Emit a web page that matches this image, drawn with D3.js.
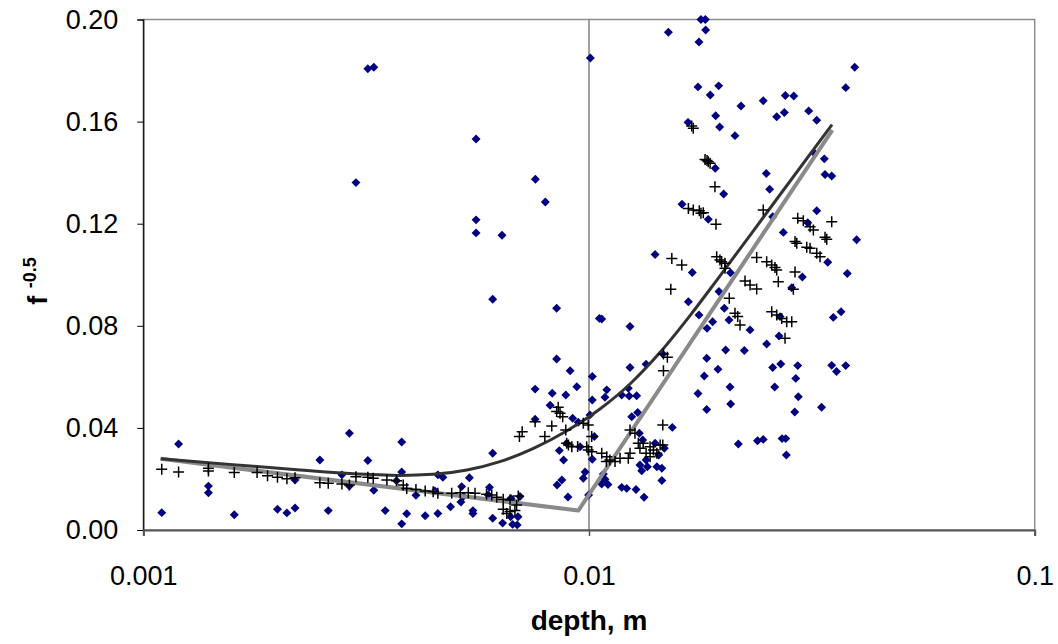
<!DOCTYPE html>
<html>
<head>
<meta charset="utf-8">
<script src="https://cdn.jsdelivr.net/npm/d3@7/dist/d3.min.js"></script>
<style>
  html, body { margin: 0; padding: 0; background: #ffffff; }
  svg { display: block; font-family: "Liberation Sans", Arial, sans-serif; }
</style>
</head>
<body>
<svg id="chart" width="1058" height="644"></svg>
<script>
// Axis ticks
const depthTicks = [0.001, 0.01, 0.1];
const fTicks = [0, 0.04, 0.08, 0.12, 0.16, 0.2];
const referenceDepth = [0.01];

// Measured points [depth (m), f^-0.5]
const measured = [
  [0.00110,0.0068],[0.00120,0.0337],[0.00140,0.0172],[0.00140,0.0146],[0.00160,0.0060],
  [0.00200,0.0081],[0.00210,0.0067],[0.00219,0.0086],[0.00219,0.0196],[0.00249,0.0274],
  [0.00260,0.0076],[0.00290,0.0379],[0.00279,0.0216],[0.00290,0.0172],[0.00319,0.0272],
  [0.00329,0.0156],[0.00349,0.0076],[0.00380,0.0345],[0.00380,0.0227],[0.00370,0.0193],
  [0.00380,0.0024],[0.00390,0.0064],[0.00409,0.0136],[0.00429,0.0056],[0.00458,0.0216],
  [0.00458,0.0065],[0.00319,0.1807],[0.00329,0.1813],[0.01007,0.1849],[0.00558,0.1532],
  [0.00300,0.1361],[0.00758,0.1374],[0.00798,0.1285],[0.00558,0.1215],[0.00558,0.1164],
  [0.00638,0.1155],[0.00608,0.0904],[0.00846,0.0869],[0.01055,0.0829],[0.00846,0.0670],
  [0.00907,0.0624],[0.01017,0.0601],[0.00939,0.0561],[0.00757,0.0552],[0.00827,0.0536],
  [0.00887,0.0529],[0.01017,0.0509],[0.00818,0.0489],[0.01005,0.0451],[0.00919,0.0438],
  [0.00757,0.0434],[0.00608,0.0301],[0.00858,0.0311],[0.00877,0.0274],[0.01017,0.0277],
  [0.00980,0.0227],[0.00470,0.0207],[0.00539,0.0205],[0.00971,0.0203],[0.00869,0.0196],
  [0.00848,0.0176],[0.00598,0.0167],[0.00451,0.0153],[0.00518,0.0170],[0.00522,0.0131],
  [0.00516,0.0110],[0.00489,0.0091],[0.00897,0.0129],[0.00998,0.0137],[0.00549,0.0076],
  [0.00549,0.0065],[0.00608,0.0046],[0.00640,0.0027],[0.00667,0.0052],[0.00674,0.0022],
  [0.00693,0.0052],[0.00690,0.0020],[0.00668,0.0124],[0.00700,0.0131],[0.00594,0.0137],
  [0.01068,0.0827],[0.01236,0.0797],[0.01671,0.0894],[0.01236,0.0637],[0.01343,0.0649],
  [0.01464,0.0690],[0.01096,0.0549],[0.01086,0.0520],[0.01184,0.0529],[0.01225,0.0555],
  [0.01231,0.0525],[0.01279,0.0526],[0.01247,0.0444],[0.01286,0.0460],[0.00946,0.0422],
  [0.01538,0.0402],[0.01028,0.0366],[0.00891,0.0340],[0.00955,0.0326],[0.01297,0.0379],
  [0.01320,0.0353],[0.01407,0.0340],[0.01476,0.0320],[0.01343,0.0274],[0.01434,0.0294],
  [0.01301,0.0255],[0.01313,0.0232],[0.01352,0.0248],[0.01420,0.0248],[0.01457,0.0242],
  [0.01077,0.0219],[0.01086,0.0199],[0.01103,0.0178],[0.01068,0.0180],[0.01457,0.0194],
  [0.01184,0.0167],[0.01215,0.0163],[0.01275,0.0159],[0.01329,0.0128],[0.01407,0.1079],
  [0.01705,0.1009],[0.02077,0.1008],[0.03011,0.0991],[0.03798,0.1005],[0.03433,0.1049],
  [0.01957,0.0934],[0.01765,0.0842],[0.02012,0.0869],[0.01894,0.0816],[0.02061,0.0823],
  [0.01840,0.0790],[0.02298,0.0784],[0.02850,0.0949],[0.02683,0.0836],[0.03533,0.0833],
  [0.03677,0.0855],[0.02669,0.0760],[0.02504,0.0729],[0.02026,0.0705],[0.02231,0.0703],
  [0.01837,0.0673],[0.01947,0.0630],[0.02583,0.0637],[0.02693,0.0650],[0.02940,0.0644],
  [0.03504,0.0645],[0.03592,0.0621],[0.03767,0.0644],[0.01814,0.0603],[0.02910,0.0594],
  [0.02072,0.0560],[0.02610,0.0560],[0.01756,0.0535],[0.02949,0.0522],[0.02079,0.0494],
  [0.01837,0.0472],[0.02895,0.0462],[0.03325,0.0481],[0.02163,0.0337],[0.02388,0.0350],
  [0.02460,0.0355],[0.02711,0.0358],[0.02763,0.0358],[0.02772,0.0294],[0.01783,0.2000],
  [0.01824,0.2000],[0.01507,0.1950],[0.01827,0.1959],[0.01765,0.1912],[0.03946,0.1813],
  [0.03767,0.1733],[0.01756,0.1736],[0.01954,0.1740],[0.01871,0.1704],[0.02193,0.1661],
  [0.02460,0.1682],[0.02757,0.1702],[0.02880,0.1700],[0.01924,0.1623],[0.02637,0.1619],
  [0.02743,0.1636],[0.03111,0.1642],[0.03243,0.1605],[0.01668,0.1597],[0.01964,0.1579],
  [0.02126,0.1545],[0.03198,0.1478],[0.03373,0.1454],[0.03385,0.1393],[0.03504,0.1387],
  [0.01920,0.1417],[0.02499,0.1397],[0.02543,0.1335],[0.02005,0.1316],[0.01617,0.1276],
  [0.01852,0.1217],[0.03243,0.1251],[0.02583,0.1227],[0.02729,0.1166],[0.03985,0.1137],
  [0.03096,0.1204]
];

// Predicted points [depth (m), f^-0.5]
const predicted = [
  [0.00110,0.0238],[0.00120,0.0227],[0.00140,0.0242],[0.00140,0.0231],[0.00160,0.0225],
  [0.00180,0.0225],[0.00190,0.0213],[0.00200,0.0207],[0.00210,0.0201],[0.00219,0.0205],
  [0.00249,0.0185],[0.00260,0.0183],[0.00279,0.0180],[0.00290,0.0176],[0.00300,0.0209],
  [0.00319,0.0207],[0.00328,0.0203],[0.00352,0.0196],[0.00370,0.0193],[0.00383,0.0176],
  [0.00390,0.0163],[0.00409,0.0159],[0.00429,0.0153],[0.00447,0.0150],[0.00458,0.0144],
  [0.00492,0.0144],[0.00514,0.0146],[0.00536,0.0146],[0.00555,0.0144],[0.00589,0.0140],
  [0.00605,0.0137],[0.00621,0.0128],[0.00642,0.0120],[0.00665,0.0118],[0.00694,0.0133],
  [0.00642,0.0081],[0.00665,0.0072],[0.00682,0.0076],[0.00654,0.0065],[0.00688,0.0098],
  [0.00853,0.0481],[0.00861,0.0457],[0.00846,0.0464],[0.00873,0.0444],[0.00757,0.0424],
  [0.00825,0.0407],[0.00708,0.0385],[0.00698,0.0366],[0.00796,0.0366],[0.00887,0.0392],
  [0.00971,0.0418],[0.00996,0.0411],[0.01014,0.0366],[0.00899,0.0333],[0.00915,0.0326],
  [0.00943,0.0327],[0.00988,0.0326],[0.01014,0.0307],[0.01526,0.0943],[0.01469,0.0690],
  [0.01499,0.0677],[0.01469,0.0624],[0.01464,0.0411],[0.01236,0.0392],[0.01268,0.0379],
  [0.01290,0.0340],[0.00996,0.0313],[0.01068,0.0301],[0.01096,0.0287],[0.01114,0.0274],
  [0.01094,0.0268],[0.01144,0.0268],[0.01174,0.0281],[0.01225,0.0281],[0.01236,0.0301],
  [0.01301,0.0320],[0.01343,0.0301],[0.01371,0.0287],[0.01420,0.0301],[0.01444,0.0333],
  [0.01464,0.0333],[0.01395,0.0313],[0.01323,0.0340],[0.00891,0.0340],[0.01371,0.0326],
  [0.01700,0.1583],[0.01714,0.1574],[0.01821,0.1452],[0.01840,0.1448],[0.01852,0.1443],
  [0.01869,0.1437],[0.01917,0.1345],[0.01671,0.1260],[0.01714,0.1254],[0.01768,0.1251],
  [0.01783,0.1241],[0.01805,0.1243],[0.01927,0.1198],[0.02460,0.1254],[0.02940,0.1221],
  [0.03026,0.1212],[0.03133,0.1188],[0.03187,0.1175],[0.03504,0.1208],[0.03385,0.1147],
  [0.03415,0.1139],[0.02899,0.1130],[0.02925,0.1123],[0.03080,0.1108],[0.03133,0.1104],
  [0.03243,0.1084],[0.03299,0.1071],[0.01534,0.1064],[0.01615,0.1038],[0.01934,0.1071],
  [0.01967,0.1058],[0.01984,0.1051],[0.02019,0.1045],[0.02019,0.1025],[0.02378,0.1068],
  [0.02504,0.1051],[0.02570,0.1038],[0.02614,0.1028],[0.02637,0.1019],[0.02659,0.0973],
  [0.02899,0.1011],[0.02874,0.0943],[0.02239,0.0976],[0.02298,0.0960],[0.02378,0.0944],
  [0.02064,0.0908],[0.02126,0.0849],[0.02156,0.0836],[0.02182,0.0803],[0.02570,0.0855],
  [0.02637,0.0842],[0.02706,0.0829],[0.02777,0.0816],[0.02850,0.0816],[0.02753,0.0751]
];

// Smooth trend curve
const trendDepth = [0.001094,0.00134,0.001735,0.002247,0.002908,0.003767,0.004467,0.005323,
  0.00631,0.007488,0.008927,0.01058,0.01236,0.01444,0.01685,0.01947,0.02614,0.0351];
const trendF = [0.0279,0.0266,0.0251,0.0235,0.0221,0.0214,0.0218,0.0235,
  0.0268,0.0319,0.0389,0.0474,0.0572,0.0696,0.0840,0.0985,0.1287,0.1588];

// Two-regime model line
const modelDepth = [0.001094, 0.009462, 0.03515];
const modelF = [0.0279, 0.0076, 0.1567];

const svg = d3.select("#chart");
const W = 1058, H = 644;
const plotLeft = 143.3, plotRight = 1034.7, plotTop = 19.5, plotBottom = 530;
const FONT = "Liberation Sans, Arial, sans-serif";

svg.append("rect").attr("width", W).attr("height", H).attr("fill", "#ffffff");

const x = d3.scaleLog().domain([0.001, 0.1]).range([plotLeft, plotRight]);
const y = d3.scaleLinear().domain([0, 0.2]).range([plotBottom, plotTop]);

// Plot frame
svg.append("rect")
  .attr("x", plotLeft).attr("y", plotTop)
  .attr("width", plotRight - plotLeft).attr("height", plotBottom - plotTop)
  .attr("fill", "none").attr("stroke", "#8c8c8c").attr("stroke-width", 1.5);

// Vertical reference line at 0.01 m
svg.selectAll("line.ref").data(referenceDepth).join("line")
  .attr("class", "ref")
  .attr("x1", d => x(d)).attr("x2", d => x(d))
  .attr("y1", plotTop).attr("y2", plotBottom)
  .attr("stroke", "#808080").attr("stroke-width", 1.5);

// Y axis
const yAxis = svg.append("g")
  .attr("transform", `translate(${plotLeft},0)`)
  .call(d3.axisLeft(y).tickValues(fTicks).tickFormat(d3.format(".2f")).tickSize(6).tickPadding(19));
yAxis.select(".domain").attr("stroke", "#000").attr("stroke-width", 1.2);
yAxis.selectAll(".tick line").attr("stroke", "#000");
yAxis.selectAll(".tick text").attr("font-size", 27).attr("fill", "#000")
  .attr("font-family", FONT);

// X axis
const xAxis = svg.append("g")
  .attr("transform", `translate(0,${plotBottom})`)
  .call(d3.axisBottom(x).tickValues(depthTicks).tickFormat(d => String(d)).tickSize(6).tickPadding(30));
xAxis.select(".domain").attr("stroke", "#555").attr("stroke-width", 2);
xAxis.selectAll(".tick line").attr("stroke", "#555").attr("stroke-width", 1.5);
xAxis.selectAll(".tick text").attr("font-size", 27).attr("fill", "#000")
  .attr("font-family", FONT);

// Measured points: navy diamonds
const diamond = d3.symbol().type(d3.symbolSquare).size(40)();
svg.append("g").selectAll("path").data(measured).join("path")
  .attr("d", diamond)
  .attr("transform", d => `translate(${x(d[0])},${y(d[1])}) rotate(45)`)
  .attr("fill", "#000080");

// Model line (light grey) and trend curve (dark grey)
const modelPts = modelDepth.map((d, i) => [d, modelF[i]]);
svg.append("path")
  .attr("d", d3.line().x(d => x(d[0])).y(d => y(d[1]))(modelPts))
  .attr("fill", "none").attr("stroke", "#8a8a8a").attr("stroke-width", 4)
  .attr("stroke-linejoin", "round");

const trendPts = trendDepth.map((d, i) => [d, trendF[i]]);
svg.append("path")
  .attr("d", d3.line().x(d => x(d[0])).y(d => y(d[1])).curve(d3.curveMonotoneX)(trendPts))
  .attr("fill", "none").attr("stroke", "#333333").attr("stroke-width", 3);

// Predicted points: black plus signs
const plus = "M-5.5,0H5.5M0,-5.5V5.5";
svg.append("g").selectAll("path").data(predicted).join("path")
  .attr("d", plus)
  .attr("transform", d => `translate(${x(d[0])},${y(d[1])})`)
  .attr("fill", "none").attr("stroke", "#000").attr("stroke-width", 1.5);

// Axis titles
svg.append("text")
  .attr("x", x(0.01)).attr("y", 630)
  .attr("text-anchor", "middle")
  .attr("font-size", 28).attr("font-weight", "bold")
  .text("depth, m");

const yt = svg.append("text")
  .attr("transform", "translate(47,281) rotate(-90)")
  .attr("text-anchor", "middle")
  .attr("font-size", 27).attr("font-weight", "bold");
yt.append("tspan").text("f ");
yt.append("tspan").attr("font-size", 18).attr("dy", -11).text("-0.5");
</script>
</body>
</html>
